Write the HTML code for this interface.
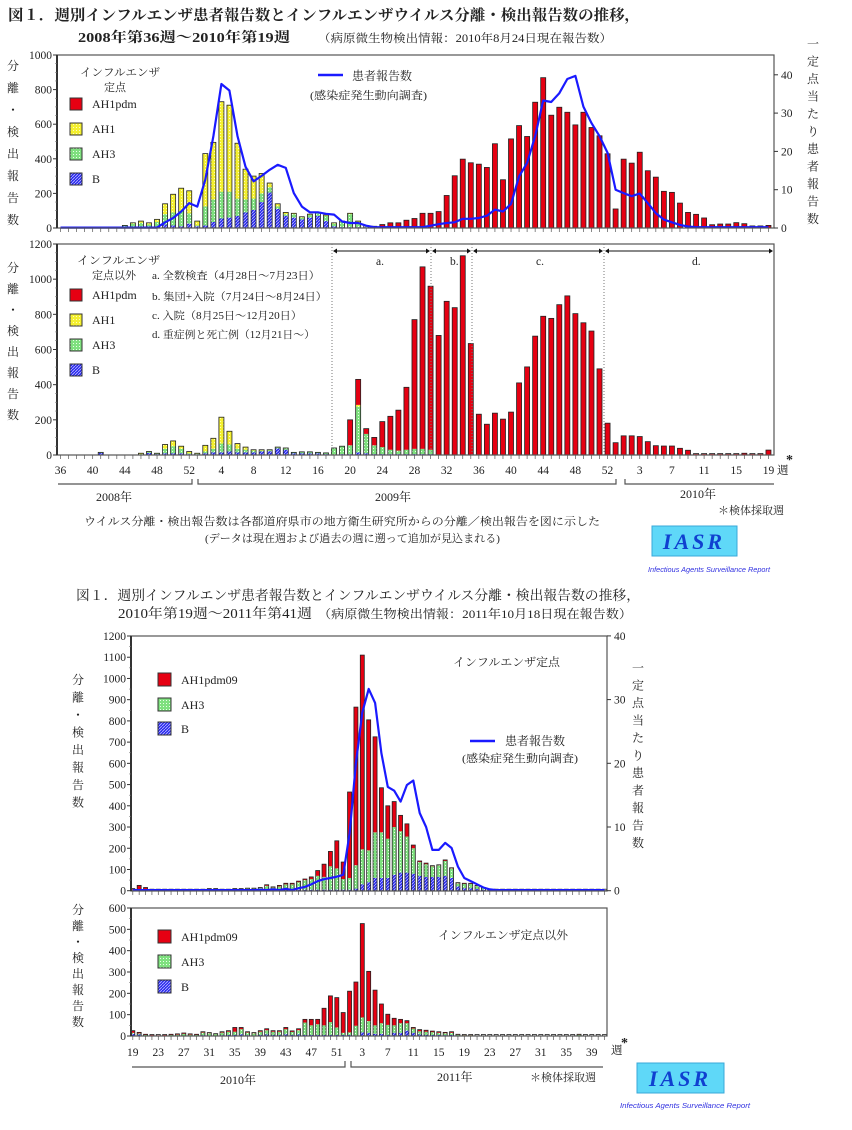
<!DOCTYPE html>
<html><head><meta charset="utf-8"><style>
html,body{margin:0;padding:0;background:#fff;}
svg{display:block;}
text{font-family:"Liberation Serif","Noto Serif CJK SC",serif;fill:#222;}
</style></head><body>
<svg id="s" width="852" height="1130" viewBox="0 0 852 1130" xmlns="http://www.w3.org/2000/svg">
<defs>
<pattern id="pY" width="3" height="3" patternUnits="userSpaceOnUse"><rect width="3" height="3" fill="#f4f030"/><rect x="1" y="1" width="1" height="1" fill="#fffcc0"/></pattern>
<pattern id="pG" width="3" height="3" patternUnits="userSpaceOnUse"><rect width="3" height="3" fill="#7fe07f"/><rect x="1" y="1" width="1" height="1" fill="#e8ffe8"/></pattern>
<pattern id="pB" width="3" height="3" patternUnits="userSpaceOnUse"><rect width="3" height="3" fill="#2a2aee"/><path d="M0,3 L3,0" stroke="#b8b8ff" stroke-width="0.8"/></pattern>
</defs>
<g id="g"></g>

<!-- Figure 1 titles -->
<text x="8" y="20" font-size="15" font-weight="bold" textLength="632" lengthAdjust="spacingAndGlyphs">図１．週別インフルエンザ患者報告数とインフルエンザウイルス分離・検出報告数の推移，</text>
<text x="78" y="42" font-size="14" font-weight="bold" textLength="212" lengthAdjust="spacingAndGlyphs">2008年第36週～2010年第19週</text>
<text x="318" y="42" font-size="11.5" textLength="294" lengthAdjust="spacingAndGlyphs">（病原微生物検出情報：2010年8月24日現在報告数）</text>

<!-- Fig1 upper legend -->
<text x="80" y="76" font-size="11" textLength="80" lengthAdjust="spacingAndGlyphs">インフルエンザ</text>
<text x="104" y="91" font-size="11">定点</text>
<rect x="70" y="98" width="12" height="12" fill="#e60012" stroke="#333"/><text x="92" y="108" font-size="12">AH1pdm</text>
<rect x="70" y="123" width="12" height="12" fill="url(#pY)" stroke="#333"/><text x="92" y="133" font-size="12">AH1</text>
<rect x="70" y="148" width="12" height="12" fill="url(#pG)" stroke="#333"/><text x="92" y="158" font-size="12">AH3</text>
<rect x="70" y="173" width="12" height="12" fill="url(#pB)" stroke="#333"/><text x="92" y="183" font-size="12">B</text>
<line x1="318" y1="75" x2="343" y2="75" stroke="#1a1aff" stroke-width="2.5"/>
<text x="352" y="80" font-size="12">患者報告数</text>
<text x="310" y="99" font-size="11" textLength="117" lengthAdjust="spacingAndGlyphs">(感染症発生動向調査)</text>

<!-- Fig1 lower legend -->
<text x="77" y="264" font-size="11" textLength="83" lengthAdjust="spacingAndGlyphs">インフルエンザ</text>
<text x="92" y="279" font-size="11">定点以外</text>
<rect x="70" y="289" width="12" height="12" fill="#e60012" stroke="#333"/><text x="92" y="299" font-size="12">AH1pdm</text>
<rect x="70" y="314" width="12" height="12" fill="url(#pY)" stroke="#333"/><text x="92" y="324" font-size="12">AH1</text>
<rect x="70" y="339" width="12" height="12" fill="url(#pG)" stroke="#333"/><text x="92" y="349" font-size="12">AH3</text>
<rect x="70" y="364" width="12" height="12" fill="url(#pB)" stroke="#333"/><text x="92" y="374" font-size="12">B</text>
<text x="152" y="279" font-size="10.5" textLength="168" lengthAdjust="spacingAndGlyphs">a. 全数検査（4月28日～7月23日）</text>
<text x="152" y="300" font-size="10.5" textLength="175" lengthAdjust="spacingAndGlyphs">b. 集団+入院（7月24日～8月24日）</text>
<text x="152" y="319" font-size="10.5" textLength="150" lengthAdjust="spacingAndGlyphs">c. 入院（8月25日～12月20日）</text>
<text x="152" y="338" font-size="10.5" textLength="163" lengthAdjust="spacingAndGlyphs">d. 重症例と死亡例（12月21日～）</text>

<!-- Fig1 bottom labels -->
<text x="96" y="501" font-size="12">2008年</text>
<text x="375" y="501" font-size="12">2009年</text>
<text x="680" y="498" font-size="12">2010年</text>
<text x="718" y="514" font-size="11">＊検体採取週</text>
<text x="84" y="525" font-size="11" textLength="516" lengthAdjust="spacingAndGlyphs">ウイルス分離・検出報告数は各都道府県市の地方衛生研究所からの分離／検出報告を図に示した</text>
<text x="205" y="542" font-size="11" textLength="295" lengthAdjust="spacingAndGlyphs">(データは現在週および過去の週に遡って追加が見込まれる)</text>
<rect x="652" y="526" width="85" height="30" fill="#5fd8f8" stroke="#3aa8d8"/>
<text x="694" y="549" font-size="22" font-weight="bold" font-style="italic" text-anchor="middle" style="fill:#1040d0" letter-spacing="3">IASR</text>
<text x="648" y="572" font-size="7.5" font-style="italic" style="fill:#3030e0;font-family:'Liberation Sans',sans-serif" textLength="122" lengthAdjust="spacingAndGlyphs">Infectious Agents Surveillance Report</text>

<!-- Figure 2 titles -->
<text x="76" y="600" font-size="13.5" textLength="564" lengthAdjust="spacingAndGlyphs">図１．週別インフルエンザ患者報告数とインフルエンザウイルス分離・検出報告数の推移，</text>
<text x="118" y="618" font-size="13.5" textLength="194" lengthAdjust="spacingAndGlyphs">2010年第19週～2011年第41週</text>
<text x="318" y="618" font-size="12" textLength="314" lengthAdjust="spacingAndGlyphs">（病原微生物検出情報：2011年10月18日現在報告数）</text>

<!-- Fig2 legends -->
<rect x="158" y="673" width="13" height="13" fill="#e60012" stroke="#333"/><text x="181" y="684" font-size="12">AH1pdm09</text>
<rect x="158" y="698" width="13" height="13" fill="url(#pG)" stroke="#333"/><text x="181" y="709" font-size="12">AH3</text>
<rect x="158" y="722" width="13" height="13" fill="url(#pB)" stroke="#333"/><text x="181" y="733" font-size="12">B</text>
<text x="453" y="666" font-size="11.5" textLength="107" lengthAdjust="spacingAndGlyphs">インフルエンザ定点</text>
<line x1="470" y1="741" x2="495" y2="741" stroke="#1a1aff" stroke-width="2.5"/>
<text x="505" y="745" font-size="12">患者報告数</text>
<text x="462" y="762" font-size="11" textLength="116" lengthAdjust="spacingAndGlyphs">(感染症発生動向調査)</text>

<rect x="158" y="930" width="13" height="13" fill="#e60012" stroke="#333"/><text x="181" y="941" font-size="12">AH1pdm09</text>
<rect x="158" y="955" width="13" height="13" fill="url(#pG)" stroke="#333"/><text x="181" y="966" font-size="12">AH3</text>
<rect x="158" y="980" width="13" height="13" fill="url(#pB)" stroke="#333"/><text x="181" y="991" font-size="12">B</text>
<text x="438" y="939" font-size="11.5" textLength="130" lengthAdjust="spacingAndGlyphs">インフルエンザ定点以外</text>

<text x="220" y="1084" font-size="12">2010年</text>
<text x="437" y="1081" font-size="12">2011年</text>
<text x="530" y="1081" font-size="11">＊検体採取週</text>
<rect x="637" y="1063" width="87" height="30" fill="#5fd8f8" stroke="#3aa8d8"/>
<text x="680" y="1086" font-size="22" font-weight="bold" font-style="italic" text-anchor="middle" style="fill:#1040d0" letter-spacing="3">IASR</text>
<text x="620" y="1108" font-size="7.5" font-style="italic" style="fill:#3030e0;font-family:'Liberation Sans',sans-serif" textLength="130" lengthAdjust="spacingAndGlyphs">Infectious Agents Surveillance Report</text>
</svg>
<script>
var NS="http://www.w3.org/2000/svg",G=document.getElementById("g");
function el(t,a,txt){var e=document.createElementNS(NS,t);for(var k in a)e.setAttribute(k,a[k]);if(txt!=null)e.textContent=txt;G.appendChild(e);return e;}
function vlabel(x,y0,str,gap,fs){for(var i=0;i<str.length;i++)el("text",{x:x,y:y0+i*gap,"font-size":fs||12,"text-anchor":"middle"},str[i]);}
var FILL={r:"#e60012",y:"url(#pY)",g:"url(#pG)",b:"url(#pB)"};
// segs order bottom->top given as keys
function bars(x0,step,bw,base,scale,data,order){
 for(var i=0;i<data.length;i++){var d=data[i];if(!d)continue;var y=base,tot=0;
  for(var k=0;k<order.length;k++){var v=d[k]||0;if(v<=0)continue;var h=v*scale;y-=h;tot+=h;
   el("rect",{x:x0+i*step-bw/2,y:y,width:bw,height:h,fill:FILL[order[k]]});}
  if(tot>0){if(tot<1.5){y=base-1.5;tot=1.5;}el("rect",{x:x0+i*step-bw/2,y:y,width:bw,height:tot,fill:"none",stroke:"#222","stroke-width":0.8});}
 }}
function line(x0,step,base,scale,vals){var p=[];for(var i=0;i<vals.length;i++)p.push((x0+i*step).toFixed(1)+","+(base-vals[i]*scale).toFixed(1));
 el("polyline",{points:p.join(" "),fill:"none",stroke:"#1a1aff","stroke-width":2.2,"stroke-linejoin":"round"});}
function frame(x1,y1,x2,y2){el("rect",{x:x1,y:y1,width:x2-x1,height:y2-y1,fill:"none",stroke:"#555","stroke-width":1.2});
 el("line",{x1:x1,y1:y1,x2:x1,y2:y2,stroke:"#333","stroke-width":2});}
function yt(x,base,top,max,stepv,fs,minor){var n=max/stepv;for(var i=0;i<=n;i++){var y=base-(base-top)*i/n;
 el("line",{x1:x-4,y1:y,x2:x,y2:y,stroke:"#333"});el("text",{x:x-5,y:y+4,"font-size":fs,"text-anchor":"end"},String(i*stepv));
 if(minor&&i<n)for(var m=1;m<minor;m++){var ym=y-(base-top)/n*m/minor;el("line",{x1:x-2,y1:ym,x2:x,y2:ym,stroke:"#777","stroke-width":0.6});}}}
function xt(x0,step,n,y){for(var i=0;i<n;i++){var x=x0+i*step;el("line",{x1:x,y1:y,x2:x,y2:y+4,stroke:"#555","stroke-width":0.7});}}

/* ===== Figure 1 ===== */
var X0=60.5,ST=8.045,N=89;
// upper sentinel data [B,AH3,AH1,red]
var U=[];for(var i=0;i<N;i++)U.push([0,0,0,0]);
function su(i,r,y,g,b){U[i]=[b,g,y,r];}
su(8,0,0,12,3);su(9,0,5,20,5);su(10,0,10,25,5);su(11,0,10,15,5);su(12,0,15,25,10);su(13,0,60,60,20);su(14,0,105,75,15);su(15,0,130,90,10);su(16,0,130,60,25);su(17,0,25,5,10);su(18,0,305,110,15);su(19,0,330,130,35);su(20,0,520,155,55);su(21,0,500,150,60);su(22,0,320,100,70);su(23,0,175,75,90);su(24,0,130,65,105);su(25,0,115,50,150);su(26,0,25,30,205);su(27,0,15,15,110);su(28,0,10,10,70);su(29,0,5,20,60);su(30,0,5,10,50);su(31,0,5,15,60);su(32,0,5,15,70);su(33,0,5,30,40);su(34,0,5,15,10);su(35,0,5,30,5);su(36,0,5,75,5);su(37,0,5,30,5);su(38,5,0,5,5);su(39,5,0,3,2);
var reds=[20,30,30,45,55,85,85,95,188,302,398,377,369,350,487,279,515,592,529,727,869,652,698,669,596,669,581,533,429,110,398,375,438,331,294,212,206,144,90,79,58,19,23,23,31,25,12,12,15];
for(var i=40;i<89;i++)U[i]=[0,0,0,reds[i-40]];
var sc1=173/1000;
bars(X0,ST,5,228,sc1,U,["b","g","y","r"]);
var L=[];for(var i=0;i<N;i++)L.push(0.2);
var lv={13:1.5,14:2.6,15:4.3,16:6.5,17:5.6,18:12.6,19:24,20:37.6,21:35.9,22:24,23:16,24:12.2,25:13.6,26:15.2,27:16.5,28:15.7,29:9.1,30:5.6,31:4.1,32:4.1,33:3.7,34:3.5,35:1.7,36:1.3,37:1.3,38:0.6,46:0.6,47:1.0,48:1.3,49:1.5,50:2.4,51:2.4,52:2.6,53:3.2,54:4.8,55:4.3,56:6.3,57:13.5,58:17,59:24,60:33.3,61:32.9,62:35.2,63:38.9,64:39.7,65:31.7,66:27.4,67:24,68:19.6,69:10,70:9.1,71:8.3,72:9,73:6.5,74:3.9,75:2.2,76:1.5,77:0.8,78:0.4};
for(var k in lv)L[k]=lv[k];for(var i=0;i<13;i++)L[i]=0.1;
line(X0,ST,228,153.2/40,L);
frame(57,55,774,228);
yt(57,228,55,1000,200,11.5,4);
for(var i=0;i<=4;i++){var y=228-i*38.3;el("line",{x1:774,y1:y,x2:778,y2:y,stroke:"#333"});el("text",{x:781,y:y+4,"font-size":11.5},String(i*10));}
xt(X0,ST,N,228);
vlabel(13,70,"分離・検出報告数",22,12);
vlabel(813,48,"一定点当たり患者報告数",17.5,12);

// lower panel fig1 [B,AH3,AH1,red]
var W=[];for(var i=0;i<N;i++)W.push([0,0,0,0]);
function sw(i,r,y,g,b){W[i]=[b,g,y,r];}
sw(5,0,0,3,12);sw(10,0,5,3,2);sw(11,0,3,5,12);sw(12,0,2,3,5);sw(13,0,25,25,10);sw(14,0,30,40,10);sw(15,0,15,25,10);sw(16,0,10,5,5);sw(17,0,3,3,4);sw(18,0,35,10,10);sw(19,0,60,20,15);sw(20,0,150,50,15);sw(21,0,75,40,20);sw(22,0,30,20,15);sw(23,0,15,15,15);sw(24,0,5,10,15);sw(25,0,5,5,20);sw(26,0,3,5,22);sw(27,0,3,5,37);sw(28,0,3,7,30);sw(29,0,0,5,10);sw(30,0,0,8,10);sw(31,0,0,8,10);sw(32,0,0,5,10);sw(33,0,0,7,5);sw(34,0,0,38,2);sw(35,0,0,45,5);sw(36,145,0,50,5);sw(37,145,10,260,15);sw(38,30,0,110,10);sw(39,45,0,50,5);sw(40,145,0,40,5);sw(41,190,0,25,5);sw(42,230,0,20,5);sw(43,355,0,25,5);sw(44,735,0,30,5);sw(45,1035,0,30,5);sw(46,930,0,25,5);
var r2=[680,874,838,1133,634,232,175,238,204,244,410,501,676,789,777,855,905,804,752,705,490,181,70,109,109,105,76,53,51,51,38,27,5,5,5,5,5,5,10,5,5,28];
for(var i=47;i<89;i++)W[i]=[0,0,0,r2[i-47]];
bars(X0,ST,5,455,211/1200,W,["b","g","y","r"]);
frame(57,244,774,455);
yt(57,455,244,1200,200,11.5,4);
xt(X0,ST,N,455);
vlabel(13,272,"分離・検出報告数",21,12);
// dividers
[332,431,472,604].forEach(function(x){el("line",{x1:x,y1:244,x2:x,y2:455,stroke:"#777","stroke-dasharray":"1,2"});});
[[332,431],[431,472],[472,604],[604,774]].forEach(function(p){el("line",{x1:p[0]+2,y1:251,x2:p[1]-2,y2:251,stroke:"#111","stroke-width":1});
 el("path",{d:"M"+(p[0]+1)+",251 l4,-2.5 v5 z M"+(p[1]-1)+",251 l-4,-2.5 v5 z",fill:"#111"});});
[["a.",376],["b.",450],["c.",536],["d.",692]].forEach(function(a){el("text",{x:a[1],y:265,"font-size":11.5},a[0]);});
// x labels fig1
function wk(i){if(i<17)return 36+i;if(i<70)return i-16;return i-69;}
for(var i=0;i<N;i++){var w=wk(i),show=false;
 if(i<17&&(w-36)%4==0)show=true; if(i>=17&&i<70&&(w%4==0))show=true; if(i>=70&&(w-3)%4==0)show=true;
 if(show)el("text",{x:X0+i*ST,y:474,"font-size":11.5,"text-anchor":"middle"},String(w));}
el("text",{x:777,y:474,"font-size":11.5},"週");el("text",{x:786,y:464,"font-size":14,"font-weight":"bold"},"*");
el("path",{d:"M58,484 H192 V479 M198,479 V484 H616 V479 M625,479 V484 H774",fill:"none",stroke:"#555","stroke-width":1.2});

/* ===== Figure 2 ===== */
var X2=132.8,S2=6.375,N2=75;
// upper [B,AH3,red]
var P=[];for(var i=0;i<N2;i++)P.push([1,1,0]);
function sp(i,r,g,b){P[i]=[b,g,r];}
sp(0,5,2,3);sp(1,20,3,2);sp(2,10,3,2);
var smalls=[10,10,5,5,10,10,12,12,15];for(var k=0;k<smalls.length;k++)sp(12+k,2,smalls[k]-4,2);
sp(21,5,18,5);sp(22,3,12,3);sp(23,5,15,5);sp(24,5,25,5);sp(25,5,25,5);sp(26,5,35,5);sp(27,5,45,5);sp(28,10,50,5);sp(29,25,65,5);sp(30,60,60,5);sp(31,70,110,5);sp(32,130,100,5);sp(33,80,50,5);sp(34,405,55,5);sp(35,745,110,10);sp(36,915,165,30);sp(37,615,150,40);sp(38,450,215,60);sp(39,210,215,60);sp(40,155,185,60);sp(41,120,225,75);sp(42,75,195,85);sp(43,60,170,85);sp(44,15,120,80);sp(45,5,65,70);sp(46,5,60,65);sp(47,3,50,65);sp(48,2,55,65);sp(49,5,70,70);sp(50,3,45,60);sp(51,3,15,20);sp(52,3,20,12);sp(53,3,20,12);sp(54,2,15,8);sp(55,2,8,5);sp(56,1,4,3);sp(57,1,2,1);
bars(X2,S2,4,890.7,254.7/1200,P,["b","g","r"]);
var L2=[];for(var i=0;i<N2;i++)L2.push(0.1);
var l2={20:0.15,22:0.2,24:0.3,26:0.4,27:0.6,28:1.0,29:1.5,30:1.8,31:2.0,32:2.2,33:2.5,34:9,35:20,36:28,37:31.7,38:29.5,39:21.6,40:16.3,41:15.7,42:14,43:16.6,44:17.3,45:12.2,46:10,47:6.4,48:6.4,49:7.5,50:6.7,51:3.8,52:2,53:1.5,54:1,55:0.5,56:0.2};
for(var k in l2)L2[k]=l2[k];
line(X2,S2,890.7,254.7/40,L2);
frame(131,636,607,891);
yt(131,890.7,636,1200,100,11.5,2);
for(var i=0;i<=4;i++){var y=890.7-i*63.7;el("line",{x1:607,y1:y,x2:611,y2:y,stroke:"#333"});el("text",{x:614,y:y+4,"font-size":11.5},String(i*10));}
xt(X2,S2,N2,891);
vlabel(78,684,"分離・検出報告数",17.5,12);
vlabel(638,672,"一定点当たり患者報告数",17.5,12);

// lower [B,AH3,red]
var Q=[];for(var i=0;i<N2;i++)Q.push([0,1,1]);
function sq(i,r,g,b){Q[i]=[b,g,r];}
sq(0,10,5,10);sq(1,5,5,7);sq(2,3,3,2);sq(3,2,2,1);sq(4,1,1,1);sq(5,2,2,1);sq(6,3,3,2);sq(7,4,4,2);sq(8,4,8,2);sq(9,4,4,2);sq(10,3,3,2);
var sv=[20,17,12,20,25,25,40,20,17,25,33,25,25,40,23,33];for(var k=0;k<sv.length;k++){var v=sv[k];sq(11+k,Math.round(v*0.2),Math.round(v*0.6),Math.round(v*0.2));}
sq(16,20,15,5);
sq(27,15,58,5);sq(28,28,45,5);sq(29,23,50,5);sq(30,80,45,5);sq(31,123,60,5);sq(32,140,35,5);sq(33,95,10,5);sq(34,193,12,5);sq(35,205,45,3);sq(36,440,70,17);sq(37,233,55,15);sq(38,165,40,10);sq(39,90,50,10);sq(40,50,47,5);sq(41,33,35,15);sq(42,18,45,15);sq(43,12,35,25);sq(44,5,20,15);sq(45,8,15,7);sq(46,7,15,5);sq(47,5,13,5);sq(48,5,10,5);sq(49,4,9,4);sq(50,5,10,5);sq(51,2,4,2);sq(52,1,3,1);sq(53,1,3,1);sq(70,2,4,2);
bars(X2,S2,4,1036,128/600,Q,["b","g","r"]);
frame(131,908,607,1036);
yt(131,1036,908,600,100,11.5,2);
xt(X2,S2,N2,1036);
vlabel(78,914,"分離・検出報告数",16,12);
for(var i=0;i<N2;i++){var w=i<34?19+i:i-33,show=(i<34)?((w-19)%4==0):((w-3)%4==0);
 if(show)el("text",{x:X2+i*S2,y:1056,"font-size":11.5,"text-anchor":"middle"},String(w));}
el("text",{x:611,y:1054,"font-size":11.5},"週");el("text",{x:621,y:1047,"font-size":14,"font-weight":"bold"},"*");
el("path",{d:"M132,1067 H345 V1061 M351,1061 V1067 H603",fill:"none",stroke:"#555","stroke-width":1.2});
</script>
</body></html>
